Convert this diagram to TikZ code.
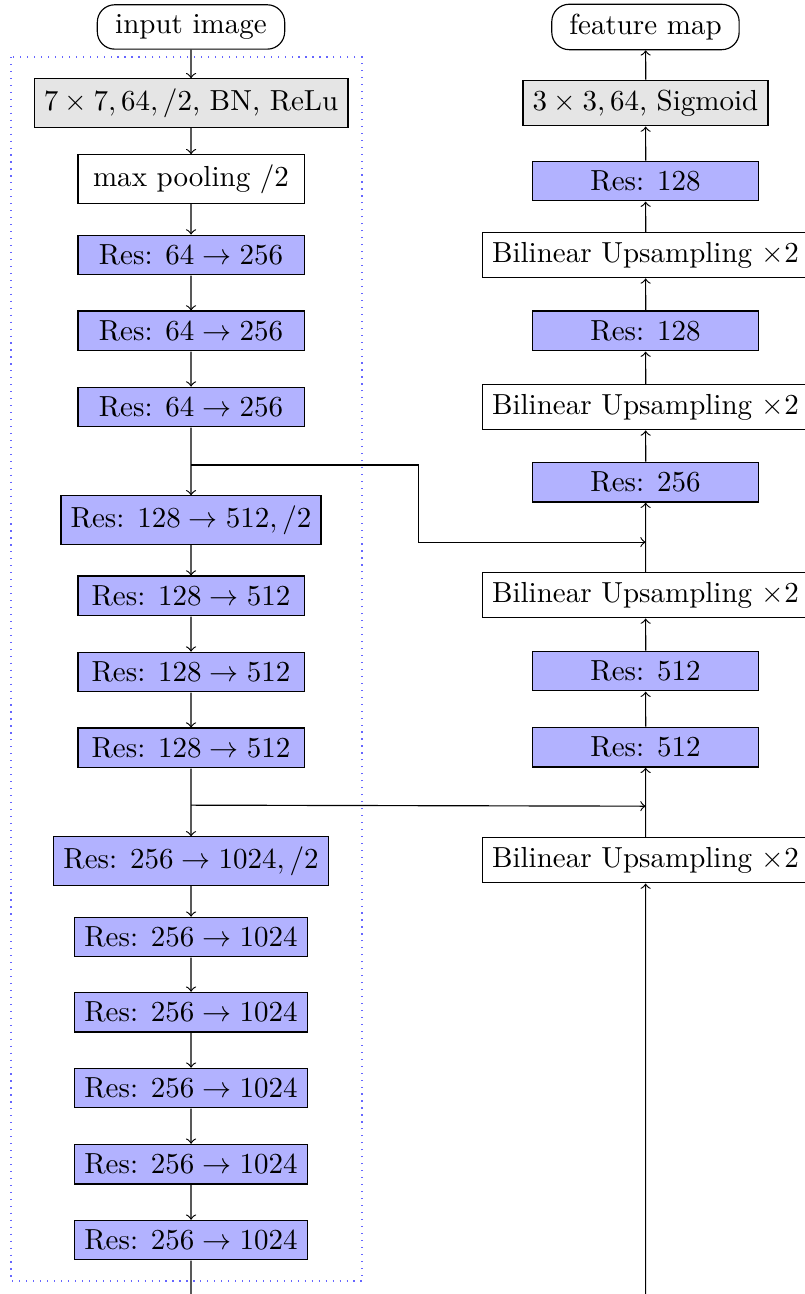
\documentclass[tikz,border=0pt]{standalone}
\usetikzlibrary{positioning}

\tikzset{
  io/.style={draw,rounded corners=6pt,minimum width=2.27cm,align=center},
  conv/.style={draw,fill=gray!20,minimum width=2.74cm,align=center},
  plain/.style={draw,fill=white,minimum width=2.74cm,align=center},
  res/.style={draw,fill=blue!30,minimum width=2.74cm,align=center},
  flow/.style={->}
}

\begin{document}
\begin{tikzpicture}[scale=1.034]
  \useasboundingbox (0,0) rectangle (9.432,-15.162);
  % encoder
  \draw[blue!60,dotted] (0.129,-0.668) rectangle (4.242,-15.010);
  \node[io] (input) at (2.238,-0.316) {input image};
  \node[conv] (conv1) at (2.238,-1.207) {$7\times 7, 64, /2$, BN, ReLu};
  \node[plain] (pool) at (2.238,-2.097) {max pooling $/2$};
  \node[res] (ra1) at (2.238,-2.988) {Res: $64 \rightarrow 256$};
  \node[res] (ra2) at (2.238,-3.878) {Res: $64 \rightarrow 256$};
  \node[res] (ra3) at (2.238,-4.769) {Res: $64 \rightarrow 256$};
  \node[res] (rb1) at (2.238,-6.093) {Res: $128 \rightarrow 512, /2$};
  \node[res] (rb2) at (2.238,-6.983) {Res: $128 \rightarrow 512$};
  \node[res] (rb3) at (2.238,-7.874) {Res: $128 \rightarrow 512$};
  \node[res] (rb4) at (2.238,-8.764) {Res: $128 \rightarrow 512$};
  \node[res] (rc1) at (2.238,-10.088) {Res: $256 \rightarrow 1024, /2$};
  \node[res] (rc2) at (2.238,-10.979) {Res: $256 \rightarrow 1024$};
  \node[res] (rc3) at (2.238,-11.858) {Res: $256 \rightarrow 1024$};
  \node[res] (rc4) at (2.238,-12.748) {Res: $256 \rightarrow 1024$};
  \node[res] (rc5) at (2.238,-13.639) {Res: $256 \rightarrow 1024$};
  \node[res] (rc6) at (2.238,-14.529) {Res: $256 \rightarrow 1024$};
  \coordinate (botL) at (2.238,-15.162);

  % decoder
  \node[io] (output) at (7.563,-0.316) {feature map};
  \node[conv] (conv2) at (7.563,-1.207) {$3\times 3, 64$, Sigmoid};
  \node[res] (d1) at (7.563,-2.121) {Res: $128$};
  \node[plain] (up1) at (7.563,-2.988) {Bilinear Upsampling $\times 2$};
  \node[res] (d2) at (7.563,-3.878) {Res: $128$};
  \node[plain] (up2) at (7.563,-4.769) {Bilinear Upsampling $\times 2$};
  \node[res] (d3) at (7.563,-5.648) {Res: $256$};
  \node[plain] (up3) at (7.563,-6.972) {Bilinear Upsampling $\times 2$};
  \node[res] (d4) at (7.563,-7.862) {Res: $512$};
  \node[res] (d5) at (7.563,-8.753) {Res: $512$};
  \node[plain] (up4) at (7.563,-10.077) {Bilinear Upsampling $\times 2$};
  \coordinate (botR) at (7.563,-15.162);

  % encoder arrows
  \draw[flow] (input) -- (conv1);
  \draw[flow] (conv1) -- (pool);
  \draw[flow] (pool) -- (ra1);
  \draw[flow] (ra1) -- (ra2);
  \draw[flow] (ra2) -- (ra3);
  \draw[flow] (ra3) -- (rb1);
  \draw[flow] (rb1) -- (rb2);
  \draw[flow] (rb2) -- (rb3);
  \draw[flow] (rb3) -- (rb4);
  \draw[flow] (rb4) -- (rc1);
  \draw[flow] (rc1) -- (rc2);
  \draw[flow] (rc2) -- (rc3);
  \draw[flow] (rc3) -- (rc4);
  \draw[flow] (rc4) -- (rc5);
  \draw[flow] (rc5) -- (rc6);
  \draw (rc6) -- (botL);

  % decoder arrows
  \draw[flow] (botR) -- (up4);
  \draw[flow] (up4) -- (d5);
  \draw[flow] (d5) -- (d4);
  \draw[flow] (d4) -- (up3);
  \draw[flow] (up3) -- (d3);
  \draw[flow] (d3) -- (up2);
  \draw[flow] (up2) -- (d2);
  \draw[flow] (d2) -- (up1);
  \draw[flow] (up1) -- (d1);
  \draw[flow] (d1) -- (conv2);
  \draw[flow] (conv2) -- (output);

  % skip connections
  \coordinate (skipA) at (2.238,-5.448);
  \coordinate (bendA) at (4.898,-6.351);
  \coordinate (joinA) at (7.563,-6.351);
  \draw[flow] (skipA) -| (bendA) -- (joinA);
  \coordinate (skipB) at (2.238,-9.432);
  \coordinate (joinB) at (7.563,-9.444);
  \draw[flow] (skipB) -- (joinB);
\end{tikzpicture}
\end{document}
